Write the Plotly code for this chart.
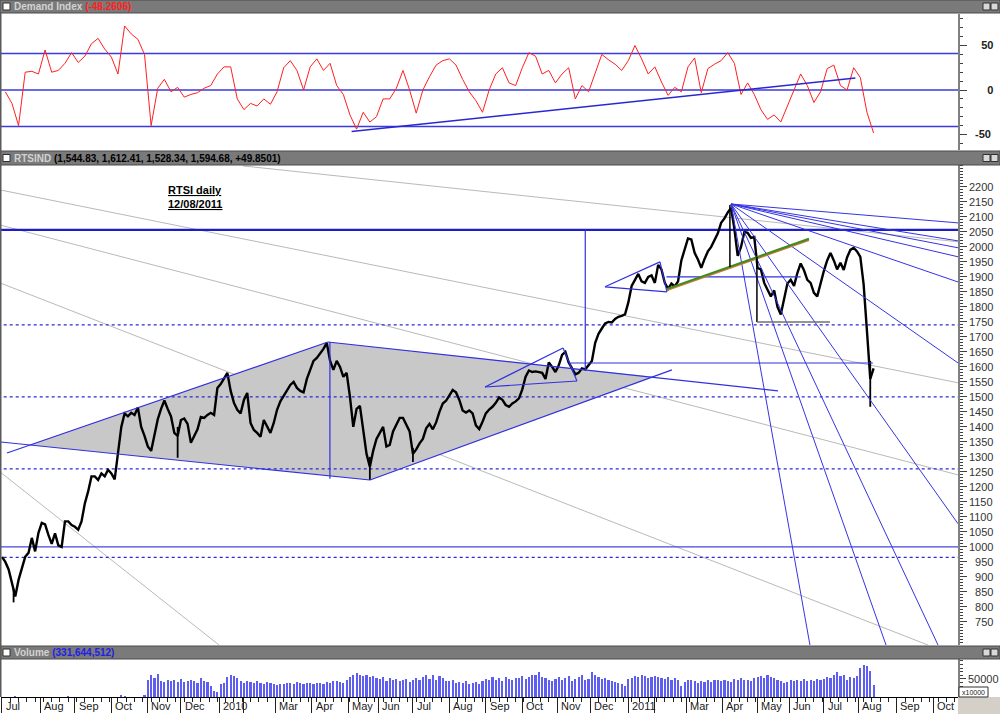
import plotly.graph_objects as go

# ---------------- data ----------------
# RTSI close, one value every 2 trading days starting 1 Jul 2009 (trading-day index 0,2,4,...)
close = [
    967, 950, 925, 880, 835, 890, 925, 967, 980, 1030,
    985, 1047, 1080, 1075, 1040, 1010, 1045, 1005, 1000, 1085,
    1085, 1073, 1067, 1057, 1085, 1145, 1185, 1235, 1235, 1223,
    1245, 1235, 1257, 1245, 1225, 1310, 1400, 1445, 1435, 1447,
    1440, 1465, 1400, 1370, 1335, 1320, 1370, 1425, 1460, 1488,
    1460, 1435, 1380, 1370, 1423, 1428, 1410, 1347, 1370, 1392,
    1433, 1430, 1440, 1447, 1440, 1530, 1543, 1560, 1580, 1520,
    1480, 1457, 1445, 1490, 1513, 1413, 1390, 1380, 1367, 1423,
    1400, 1380, 1413, 1457, 1485, 1505, 1523, 1540, 1550, 1530,
    1520, 1515, 1560, 1590, 1620, 1630, 1645, 1660, 1680, 1620,
    1590, 1620, 1600, 1567, 1580, 1500, 1400, 1460, 1470, 1390,
    1310, 1267, 1320, 1360, 1378, 1400, 1335, 1340, 1385, 1410,
    1430, 1430, 1405, 1385, 1310, 1325, 1345, 1360, 1395, 1410,
    1392, 1415, 1450, 1478, 1487, 1505, 1523, 1515, 1490, 1455,
    1448, 1455, 1445, 1405, 1393, 1417, 1445, 1458, 1467, 1480,
    1498, 1490, 1473, 1467, 1478, 1485, 1495, 1525, 1567, 1588,
    1583, 1585, 1582, 1580, 1560, 1615, 1600, 1583, 1605, 1640,
    1650, 1615, 1595, 1575, 1580, 1595, 1592, 1605, 1620, 1680,
    1710, 1728, 1745, 1750, 1748, 1760, 1767, 1770, 1775, 1815,
    1870, 1890, 1910, 1885, 1880, 1900, 1905, 1880, 1940, 1925,
    1880, 1860, 1878, 1868, 1885, 1955, 1995, 2028, 2025, 1980,
    1958, 1930, 1960, 1985, 2000, 2025, 2045, 2080, 2095, 2115,
    2130, 2060, 1970, 2000, 2050, 2047, 2030, 2033, 1930, 1925,
    1880, 1857, 1835, 1855, 1800, 1775, 1825, 1878, 1890, 1870,
    1913, 1945, 1922, 1890, 1880, 1847, 1835, 1880, 1920, 1955,
    1980, 1955, 1925, 1947, 1923, 1965, 1990, 1997, 1985, 1967,
    1875, 1720, 1560, 1595,
]

# notable long bar ranges (trading-day index, low, high)
wick_day = [7, 106, 222, 248, 524]
wick_low = [815, 1297, 1223, 1283, 1467]
wick_high = [860, 1400, 1300, 1330, 1620]

# Volume (x10000), one value every 2 trading days
volume = (
    [0, 0, 0, 0, 1500, 0, 0, 0, 0, 0, 0, 0, 0, 0, 0, 0, 0, 0, 0, 0, 1500, 0,
     0, 0, 0, 0, 0, 0, 0, 0, 0, 0, 0, 0, 0, 0, 5000, 2000, 0, 0, 0, 0, 0, 3000]
    + [48000, 60000, 52000, 64000, 45000, 42000, 47000, 44000, 47000, 43000]
    + [50000, 42000, 45000, 48000, 44000, 38000, 52000, 45000, 41000, 30000, 18000, 14000]
    + [35000, 40000, 55000, 60000, 58000, 52000, 45000, 40000]
    + [44000, 42000, 38000, 45000, 40000, 36000, 42000, 38000, 36000]
    + [33000, 36000, 35000, 38000, 40000, 36000, 42000, 38000, 36000, 40000, 38000]
    + [36000, 40000, 38000, 35000, 42000, 40000, 44000, 45000, 42000, 40000, 48000]
    + [55000, 62000, 66000, 60000, 58000, 62000, 55000, 57000, 52000]
    + [50000, 56000, 45000, 52000, 48000, 50000, 44000, 46000, 50000, 42000]
    + [47000, 52000, 46000, 55000, 60000, 50000, 62000, 48000, 58000, 54000, 44000]
    + [45000, 48000, 40000, 42000, 38000, 44000, 36000, 40000, 43000, 37000, 45000]
    + [50000, 46000, 55000, 48000, 52000, 45000, 56000, 50000, 48000, 53000, 52000]
    + [58000, 50000, 55000, 60000, 62000, 70000, 55000, 52000, 48000, 45000]
    + [50000, 55000, 48000, 52000, 58000, 45000, 50000, 56000, 60000, 48000, 50000]
    + [70000, 60000, 55000, 50000, 52000, 48000, 45000, 42000, 38000, 35000, 30000]
    + [50000, 54000, 57000, 55000, 60000, 58000, 52000, 55000]
    + [58000, 55000, 52000, 50000, 56000, 48000, 52000, 46000, 30000]
    + [42000, 46000, 48000, 44000, 40000, 45000, 42000, 47000, 43000, 46000, 48000]
    + [44000, 48000, 45000, 43000, 50000, 46000, 52000, 48000, 47000, 44000, 52000]
    + [55000, 58000, 52000, 60000, 56000, 52000, 48000, 45000, 40000]
    + [42000, 46000, 44000, 48000, 45000, 50000, 44000, 47000, 45000, 50000, 48000]
    + [50000, 55000, 52000, 60000, 70000, 58000, 62000, 48000, 55000, 52000, 58000]
    + [80000, 90000, 85000, 72000, 33164]
)

# Demand Index, one value every 4 trading days (index 2, 6, 10, ...)
demand = [
    -2, -15, -40, 20, 21, 18, 45, 20, 22, 30,
    42, 31, 38, 52, 58, 46, 37, 18, 72, 63,
    57, 40, -40, 2, 12, -2, 3, -8, -5, -3,
    2, 5, 18, 26, 26, -10, -22, -15, -18, -10,
    -16, -2, 25, 33, 22, 0, 26, 35, 22, 30,
    5, -5, -28, -44, -25, -36, -30, -10, -10, 2,
    22, 0, -26, 0, 15, 28, 33, 35, 28, 12,
    -2, -12, -25, 0, 18, 25, 8, 5, 25, 42,
    38, 18, 22, 8, 18, 25, -10, 5, -2, 20,
    40, 34, 29, 22, 33, 50, 35, 18, 26, 9,
    -6, 3, -2, 26, 36, -3, 24, 29, 33, 42,
    30, -5, 8, -5, -22, -33, -28, -36, -18, 2,
    18, 5, -14, -2, 24, 28, 5, 0, 25, 14,
    -25, -48.26,
]
demand_levels = [41, 0, -41]
demand_trend_day = [211, 515]
demand_trend_val = [-46.6, 13.5]

# month boundaries (trading-day index) and labels
month_start = [0, 23, 44, 66, 88, 108, 131, 146, 165, 187, 209, 227, 248, 270,
               292, 314, 335, 355, 378, 394, 413, 435, 456, 475, 496, 517, 540, 562]
month_label = ["Jul", "Aug", "Sep", "Oct", "Nov", "Dec", "2010", "", "Mar", "Apr",
               "May", "Jun", "Jul", "Aug", "Sep", "Oct", "Nov", "Dec", "2011", "",
               "Mar", "Apr", "May", "Jun", "Jul", "Aug", "Sep", "Oct"]

price_ticks = list(range(750, 2201, 50))

# drawn studies (trading-day index, price)
dashed_levels = [1740, 1500, 1260, 965]
solid_levels = [2057, 1000]

diamond_day = [16.7, 196.7, 392.9, 222.1]
diamond_val = [1340, 1683, 1567, 1223]

blue_day0 = [-1.2, 3.0, 196.7, 222.1, 197.9, 291.5, 338.6, 347.0, 363.9, 397.1, 401.3, 352.0, 343.0, 401.0]
blue_val0 = [1350, 1313, 1683, 1223, 1683, 1533, 1663, 1553, 1867, 1950, 1850, 2057, 1613, 1900]
blue_day1 = [222.1, 196.7, 468.3, 404.3, 197.9, 338.6, 347.0, 291.5, 397.1, 401.3, 363.9, 352.0, 525.6, 482.0]
blue_val1 = [1223, 1683, 1520, 1590, 1227, 1663, 1553, 1533, 1950, 1850, 1867, 1590, 1613, 1900]

gray_day0 = [-1.2, 145.4, -1.2, -1.2, -1.2]
gray_val0 = [2190, 2270, 1880, 2073, 1250]
gray_day1 = [577, 577, 558.8, 577, 131]
gray_val1 = [1547, 2017, 673, 1240, 673]

fan_origin_day, fan_origin_val = 440, 2143
fan_end_day = [577, 577, 577, 577, 577, 577, 577, 487.6, 533.5, 564.9]
fan_end_val = [2080, 2020, 1997, 1967, 1883, 1613, 1077, 673, 673, 673]

green_day = [401.3, 487.0]
green_val = [1860, 2027]

black_day0 = [439.3, 455.6]
black_val0 = [2140, 1967]
black_day1 = [439.3, 455.6]
black_val1 = [1933, 1750]
shelf_day = [455.6, 499.7]
shelf_val = [1750, 1750]

# ---------------- helpers ----------------
W, H = 1000, 714


def py(p):
    return 1 - p / H


def px(p):
    return p / W


def segs(x0, y0, x1, y1):
    xs, ys = [], []
    for a, b, c, d in zip(x0, y0, x1, y1):
        xs += [a, c, None]
        ys += [b, d, None]
    return xs, ys


days = [2 * i for i in range(len(close))]
vol_days = [2 * i for i in range(len(volume))]
di_days = [2 + 4 * j for j in range(len(demand))]
X0, X1 = -0.6, 576.95

fig = go.Figure()

# ---- Demand index panel ----
lx, ly = segs([X0 - 2] * 3, demand_levels, [X1 + 2] * 3, demand_levels)
fig.add_trace(go.Scatter(x=lx, y=ly, mode="lines", line=dict(color="#3a3ade", width=1.5),
                         xaxis="x3", yaxis="y3"))
fig.add_trace(go.Scatter(x=di_days, y=demand, mode="lines", line=dict(color="#ff1f1f", width=1),
                         xaxis="x3", yaxis="y3"))
fig.add_trace(go.Scatter(x=demand_trend_day, y=demand_trend_val, mode="lines",
                         line=dict(color="#2828d2", width=1.5), xaxis="x3", yaxis="y3"))

# ---- Main price panel ----
gx, gy = segs(gray_day0, gray_val0, gray_day1, gray_val1)
fig.add_trace(go.Scatter(x=gx, y=gy, mode="lines", line=dict(color="#b9b9b9", width=1),
                         xaxis="x2", yaxis="y2"))
fig.add_trace(go.Scatter(x=diamond_day + [diamond_day[0]], y=diamond_val + [diamond_val[0]],
                         mode="lines", fill="toself", fillcolor="#c8c8c8",
                         line=dict(width=0, color="#c8c8c8"), xaxis="x2", yaxis="y2"))
dx, dy = segs([X0 - 2] * len(dashed_levels), dashed_levels, [X1 + 2] * len(dashed_levels), dashed_levels)
fig.add_trace(go.Scatter(x=dx, y=dy, mode="lines", line=dict(color="#2a2ad2", width=1.2, dash="3px,3px"),
                         xaxis="x2", yaxis="y2"))
fig.add_trace(go.Scatter(x=[X0 - 2, X1 + 2], y=[solid_levels[0]] * 2, mode="lines",
                         line=dict(color="#1c1cc8", width=2.2), xaxis="x2", yaxis="y2"))
fig.add_trace(go.Scatter(x=[X0 - 2, X1 + 2], y=[solid_levels[1]] * 2, mode="lines",
                         line=dict(color="#4646e0", width=1.4), xaxis="x2", yaxis="y2"))
wx, wy = segs(wick_day, wick_low, wick_day, wick_high)
fig.add_trace(go.Scatter(x=wx, y=wy, mode="lines", line=dict(color="#000000", width=1.8),
                         xaxis="x2", yaxis="y2"))
fig.add_trace(go.Scatter(x=days, y=close, mode="lines", line=dict(color="#000000", width=2.4),
                         xaxis="x2", yaxis="y2"))
bx, by = segs(blue_day0, blue_val0, blue_day1, blue_val1)
fig.add_trace(go.Scatter(x=bx, y=by, mode="lines", line=dict(color="#3030e0", width=1.2),
                         xaxis="x2", yaxis="y2"))
fx, fy = segs([fan_origin_day] * len(fan_end_day), [fan_origin_val] * len(fan_end_day),
              fan_end_day, fan_end_val)
fig.add_trace(go.Scatter(x=fx, y=fy, mode="lines", line=dict(color="#3434e4", width=1),
                         xaxis="x2", yaxis="y2"))
fig.add_trace(go.Scatter(x=green_day, y=[v - 4 for v in green_val], mode="lines",
                         line=dict(color="#c8783c", width=2), xaxis="x2", yaxis="y2"))
fig.add_trace(go.Scatter(x=green_day, y=green_val, mode="lines",
                         line=dict(color="#3c8c1e", width=2), xaxis="x2", yaxis="y2"))
kx, ky = segs(black_day0, black_val0, black_day1, black_val1)
fig.add_trace(go.Scatter(x=kx, y=ky, mode="lines", line=dict(color="#000000", width=1.5),
                         xaxis="x2", yaxis="y2"))
fig.add_trace(go.Scatter(x=shelf_day, y=shelf_val, mode="lines", line=dict(color="#707070", width=1.5),
                         xaxis="x2", yaxis="y2"))

# ---- Volume panel ----
fig.add_trace(go.Bar(x=vol_days, y=volume, width=1.3, marker=dict(color="#5e5ef0", line=dict(width=0)),
                     xaxis="x", yaxis="y"))

# ---------------- layout ----------------
xdom = [px(1), px(958)]
axis_font = dict(family="Liberation Sans, Arial, sans-serif", size=11, color="#333333")


def pad(s, width):
    return "\u2007" * max(0, width - len(s)) + s


fig.update_layout(
    width=W, height=H, autosize=False,
    margin=dict(l=0, r=0, t=0, b=0),
    paper_bgcolor="#ffffff", plot_bgcolor="#ffffff",
    showlegend=False, hovermode=False, bargap=0,
    xaxis=dict(domain=xdom, range=[X0, X1], anchor="y", showgrid=False, zeroline=False,
               showline=True, linecolor="#000000", linewidth=1,
               tickvals=month_start, ticks="outside", ticklen=15, tickcolor="#202020",
               showticklabels=False,
               minor=dict(dtick=5, tick0=0, ticks="outside", ticklen=4, tickcolor="#202020")),
    xaxis2=dict(domain=xdom, range=[X0, X1], anchor="y2", matches="x", showgrid=False,
                zeroline=False, showticklabels=False, ticks=""),
    xaxis3=dict(domain=xdom, range=[X0, X1], anchor="y3", matches="x", showgrid=False,
                zeroline=False, showticklabels=False, ticks=""),
    yaxis=dict(domain=[py(697), py(659)], range=[0, 105500], side="right", anchor="x",
               showgrid=False, zeroline=False, showline=True, linecolor="#808080", linewidth=1.5,
               tickvals=[50000], ticktext=["50000"], ticks="outside", ticklen=6, tickcolor="#404040",
               minor=dict(dtick=10000, ticks="outside", ticklen=3, tickcolor="#404040"),
               tickfont=axis_font),
    yaxis2=dict(domain=[py(645), py(165)], range=[673, 2273], side="right", anchor="x2",
                showgrid=False, zeroline=False, showline=True, linecolor="#808080", linewidth=1.5,
                tickvals=price_ticks, ticktext=[pad(str(v), 4) for v in price_ticks],
                ticks="outside", ticklen=7, tickcolor="#404040",
                minor=dict(dtick=10, ticks="outside", ticklen=3, tickcolor="#404040"),
                tickfont=axis_font),
    yaxis3=dict(domain=[py(150), py(14)], range=[-67.4, 85.4], side="right", anchor="x3",
                showgrid=False, zeroline=False, showline=True, linecolor="#808080", linewidth=1.5,
                tickvals=[50, 0, -50],
                ticktext=["<b>" + pad("50", 4) + "</b>", "<b>" + pad("0", 4) + "</b>",
                          "<b>\u2007-50</b>"],
                ticks="outside", ticklen=7, tickcolor="#404040",
                minor=dict(dtick=10, ticks="outside", ticklen=3, tickcolor="#404040"),
                tickfont=dict(family="Liberation Sans, Arial, sans-serif", size=11, color="#202020")),
)

shapes = []
annotations = []

# header bars
headers = [
    (0, 13, "Demand Index", "(-48.2606)", "#ff2020"),
    (151, 165, "RTSIND", "(1,544.83, 1,612.41, 1,528.34, 1,594.68, +49.8501)", "#000000"),
    (646, 659, "Volume", "(331,644,512)", "#2020e6"),
]
for top, bot, name, val, col in headers:
    shapes.append(dict(type="rect", xref="paper", yref="paper", x0=0, x1=1, y0=py(bot), y1=py(top),
                       fillcolor="#7a7a7a", line=dict(color="#4a4a4a", width=1), layer="above"))
    mid = (top + bot) / 2
    shapes.append(dict(type="rect", xref="paper", yref="paper", x0=px(3), x1=px(10),
                       y0=py(mid + 3.5), y1=py(mid - 3.5), fillcolor="#ffffff",
                       line=dict(color="#303030", width=1), layer="above"))
    for xa in (983, 991):
        shapes.append(dict(type="rect", xref="paper", yref="paper", x0=px(xa), x1=px(xa + 7),
                           y0=py(mid + 3.5), y1=py(mid - 3.5), fillcolor="#d8d8d8",
                           line=dict(color="#303030", width=1), layer="above"))
    annotations.append(dict(xref="paper", yref="paper", x=px(12), y=py(mid), xanchor="left",
                            yanchor="middle", showarrow=False,
                            text="<b><span style='color:#d2d2d2'>" + name + "</span> "
                                 "<span style='color:" + col + "'>" + val + "</span></b>",
                            font=dict(family="Liberation Sans, Arial, sans-serif", size=10)))

# left frame line
shapes.append(dict(type="line", xref="paper", yref="paper", x0=px(0.5), x1=px(0.5), y0=py(697), y1=py(13),
                   line=dict(color="#5a5a5a", width=2), layer="above"))
# bottom-right grey corner and x10000 box
shapes.append(dict(type="rect", xref="paper", yref="paper", x0=px(958), x1=1, y0=0, y1=py(697),
                   fillcolor="#d4d0c8", line=dict(width=0), layer="above"))
shapes.append(dict(type="rect", xref="paper", yref="paper", x0=px(959), x1=px(988), y0=py(697), y1=py(687),
                   fillcolor="#ffffff", line=dict(color="#303030", width=1), layer="above"))
annotations.append(dict(xref="paper", yref="paper", x=px(973.5), y=py(692), showarrow=False,
                        xanchor="center", yanchor="middle",
                        text="x10000", font=dict(family="Liberation Sans, Arial", size=7, color="#202020")))

# title
for txt, yy in (("RTSI daily", 190), ("12/08/2011", 204)):
    annotations.append(dict(xref="paper", yref="paper", x=px(195), y=py(yy), showarrow=False,
                            xanchor="center", yanchor="middle", text="<b><u>" + txt + "</u></b>",
                            font=dict(family="Liberation Sans, Arial, sans-serif", size=11, color="#000")))

# month labels
for d, lab in zip(month_start, month_label):
    if lab:
        annotations.append(dict(xref="x", yref="paper", x=d + 1.0, y=py(705.5), xanchor="left",
                                yanchor="middle", showarrow=False, text=lab,
                                font=dict(family="Liberation Sans, Arial, sans-serif", size=11,
                                          color="#1a1a1a")))

fig.update_layout(shapes=shapes, annotations=annotations)

fig.write_html("out.html", config={"displayModeBar": False})
